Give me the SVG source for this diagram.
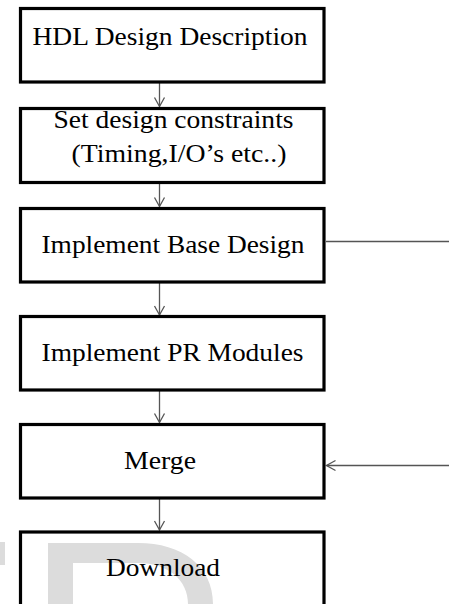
<svg xmlns="http://www.w3.org/2000/svg" width="449" height="604" viewBox="0 0 449 604">
<style>
.box{fill:none;stroke:#000;stroke-width:3.2}
.lbl{font-family:'Liberation Serif','Times New Roman',Times,serif;font-size:26px;fill:#000}
.conn{stroke:#555;stroke-width:1.3;fill:none}
.wm{fill:#dcdcdc}
</style>
<defs>
<marker id="arr" markerUnits="userSpaceOnUse" markerWidth="12" markerHeight="12" refX="0" refY="0" orient="auto" overflow="visible" viewBox="-10 -6 12 12">
<path d="M-9,-5 L0,0 L-9,5" fill="none" stroke="#555" stroke-width="1.3"/>
</marker>
</defs>
<rect width="449" height="604" fill="#fff"/>
<g id="watermark">
<rect class="wm" x="0" y="542" width="5" height="23"/>
<path class="wm" d="M48,543 L138,543 C182,543 213,566 213,604 L188,604 C188,580 168,563 138,563 L73,563 L73,604 L48,604 Z"/>
</g>
<g id="connectors">
<line class="conn" x1="159.5" y1="83" x2="159.5" y2="106.5" marker-end="url(#arr)"/>
<line class="conn" x1="159.5" y1="184" x2="159.5" y2="206.5" marker-end="url(#arr)"/>
<line class="conn" x1="159.5" y1="283" x2="159.5" y2="315" marker-end="url(#arr)"/>
<line class="conn" x1="159.5" y1="391" x2="159.5" y2="422.5" marker-end="url(#arr)"/>
<line class="conn" x1="159.5" y1="499" x2="159.5" y2="530" marker-end="url(#arr)"/>
<line class="conn" x1="326" y1="241.5" x2="449" y2="241.5"/>
<line class="conn" x1="449" y1="465.5" x2="326.5" y2="465.5" marker-end="url(#arr)"/>
</g>
<g id="n1">
<rect class="box" x="20.5" y="8.5" width="303.5" height="73.5"/>
<text class="lbl" x="32.5" y="45" textLength="275" lengthAdjust="spacingAndGlyphs">HDL Design Description</text>
</g>
<g id="n2">
<rect class="box" x="20.5" y="108.5" width="303.5" height="74"/>
<text class="lbl" x="53.5" y="128" textLength="240" lengthAdjust="spacingAndGlyphs">Set design constraints</text>
<text class="lbl" x="71.5" y="161.5" textLength="215" lengthAdjust="spacingAndGlyphs">(Timing,I/O’s etc..)</text>
</g>
<g id="n3">
<rect class="box" x="20.5" y="208.5" width="303.5" height="73.5"/>
<text class="lbl" x="41.5" y="253" textLength="263" lengthAdjust="spacingAndGlyphs">Implement Base Design</text>
</g>
<g id="n4">
<rect class="box" x="20.5" y="316.5" width="303.5" height="73.5"/>
<text class="lbl" x="41.5" y="361" textLength="262" lengthAdjust="spacingAndGlyphs">Implement PR Modules</text>
</g>
<g id="n5">
<rect class="box" x="20.5" y="424.5" width="303.5" height="73.5"/>
<text class="lbl" x="124" y="468.5" textLength="72" lengthAdjust="spacingAndGlyphs">Merge</text>
</g>
<g id="n6">
<rect class="box" x="20.5" y="532" width="303.5" height="90"/>
<text class="lbl" x="106" y="576" textLength="114" lengthAdjust="spacingAndGlyphs">Download</text>
</g>
</svg>
